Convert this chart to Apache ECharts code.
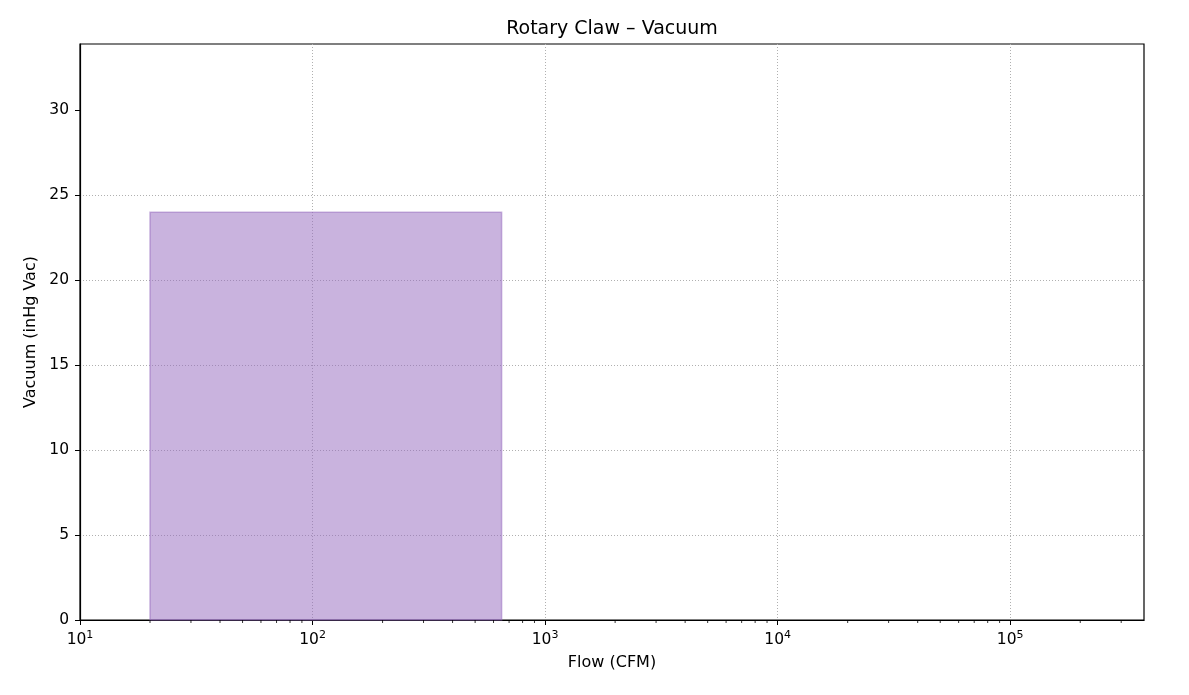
<!DOCTYPE html>
<html>
<head>
<meta charset="utf-8">
<script src="https://cdn.jsdelivr.net/npm/echarts@6/dist/echarts.min.js"></script>
<style>
  html, body { margin: 0; padding: 0; background: #fff; }
  #chart { width: 1189px; height: 695px; }
</style>
</head>
<body>
<div id="chart"></div>
<script>
// flow range of the rotary claw band (CFM) and its vacuum range (inHg Vac)
const flowRange = [20, 650];
const vacuumRange = [0, 24];
// axis limits
const xLimits = [10, 376000];
const yLimits = [0, 33.9];
// tick values
const xTicks = [10, 100, 1000, 10000, 100000];
const yTicks = [0, 5, 10, 15, 20, 25, 30];
// minor log ticks: multipliers within each decade
const minorMult = [2, 3, 4, 5, 6, 7, 8, 9];

const minorTicks = [];
xTicks.forEach(d => minorMult.forEach(m => {
  if (d * m < xLimits[1]) minorTicks.push([d * m, 0]);
}));

const font = 'DejaVu Sans';
const gridLine = { color: '#b0b0b0', type: [1, 2], width: 1 };
const myChart = echarts.init(document.getElementById('chart'));

const option = {
  animation: false,
  title: {
    text: 'Rotary Claw \u2013 Vacuum',
    left: 607,
    textAlign: 'center',
    top: 15,
    textStyle: { fontFamily: font, fontSize: 19, fontWeight: 'normal', color: '#000' },
  },
  grid: {
    left: 80,
    right: 45,
    top: 44,
    bottom: 75,
    show: true,
    borderColor: '#000',
    borderWidth: 1.2,
    backgroundColor: 'transparent',
  },
  xAxis: {
    type: 'log',
    logBase: 10,
    min: xLimits[0],
    max: xLimits[1],
    name: 'Flow (CFM)',
    nameLocation: 'middle',
    nameGap: 35,
    nameTextStyle: { fontFamily: font, fontSize: 16, color: '#000' },
    axisLine: { show: true, lineStyle: { color: '#000', width: 1.2 } },
    axisTick: { show: true, length: 5, customValues: xTicks, lineStyle: { color: '#000' } },
    minorTick: { show: false },
    splitLine: { show: true, showMinLine: false, showMaxLine: true, lineStyle: gridLine },
    axisLabel: {
      margin: 10,
      customValues: xTicks,
      fontFamily: font,
      fontSize: 15.5,
      color: '#000',
      formatter(v) {
        const e = Math.log10(v);
        if (Math.abs(e - Math.round(e)) > 1e-6) return '';
        return '10{sup|' + Math.round(e) + '}';
      },
      rich: {
        sup: { fontFamily: font, fontSize: 11, verticalAlign: 'top', padding: [0, 0, 8, 0], color: '#000' },
      },
    },
  },
  yAxis: {
    type: 'value',
    min: yLimits[0],
    max: yLimits[1],
    interval: 5,
    name: 'Vacuum (inHg Vac)',
    nameLocation: 'middle',
    nameGap: 38,
    nameTextStyle: { fontFamily: font, fontSize: 16, color: '#000' },
    axisLine: { show: true, lineStyle: { color: '#000', width: 1.2 } },
    axisTick: { show: true, length: 5, customValues: yTicks, lineStyle: { color: '#000' } },
    splitLine: { show: true, showMinLine: false, showMaxLine: false, lineStyle: gridLine },
    axisLabel: {
      margin: 11,
      customValues: yTicks,
      fontFamily: font,
      fontSize: 15.5,
      color: '#000',
    },
  },
  series: [
    {
      name: 'Rotary Claw',
      type: 'custom',
      renderItem(params, api) {
        const p0 = api.coord([api.value(0), api.value(2)]);
        const p1 = api.coord([api.value(1), api.value(3)]);
        return {
          type: 'rect',
          shape: { x: p0[0], y: p1[1], width: p1[0] - p0[0], height: p0[1] - p1[1] },
          style: {
            fill: 'rgba(148,103,189,0.5)',
            stroke: 'rgba(148,103,189,0.5)',
            lineWidth: 1.5,
          },
        };
      },
      data: [[flowRange[0], flowRange[1], vacuumRange[0], vacuumRange[1]]],
      z: 1,
    },
    {
      name: 'minor ticks',
      type: 'custom',
      silent: true,
      clip: false,
      renderItem(params, api) {
        const p = api.coord([api.value(0), api.value(1)]);
        return {
          type: 'line',
          shape: { x1: p[0], y1: p[1], x2: p[0], y2: p[1] + 3 },
          style: { stroke: '#000', lineWidth: 0.8 },
        };
      },
      data: minorTicks,
      z: 5,
    },
  ],
};
myChart.setOption(option);
</script>
</body>
</html>
